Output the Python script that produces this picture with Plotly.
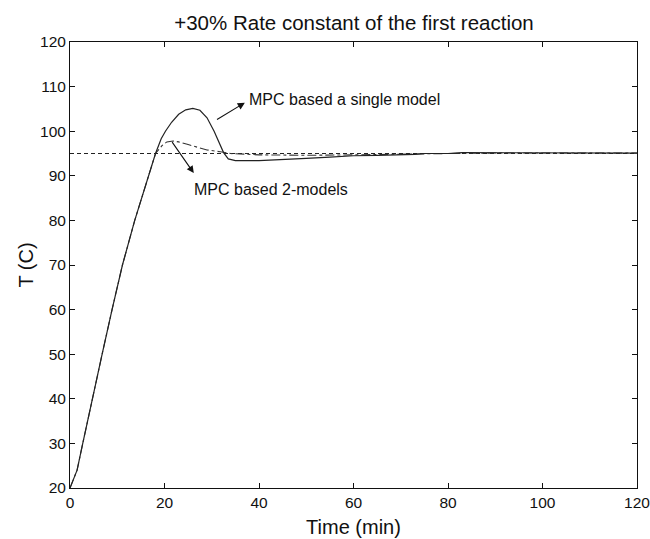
import plotly.graph_objects as go

# Data
t_single = [0, 1.5, 2.7, 4.7, 6.8, 8.9, 11.1, 13.7, 16.6, 18.1, 19.3, 20.2, 21.5, 23, 24.5, 26, 27.5, 29, 30.5, 31.5, 32.5, 33.5, 35, 40, 45, 50, 55, 60, 65, 70, 73, 75, 80, 83, 90, 96, 100, 110, 120]
T_single = [20, 24, 30, 40, 50, 60, 70, 80, 90, 95, 98.3, 100, 102, 103.8, 104.8, 105.1, 104.7, 103, 100, 97.5, 95.2, 93.8, 93.4, 93.4, 93.6, 93.9, 94.2, 94.5, 94.6, 94.7, 94.8, 95.0, 95.0, 95.2, 95.2, 95.1, 95.1, 95.1, 95.1]

t_two = [0, 1.5, 2.7, 4.7, 6.8, 8.9, 11.1, 13.7, 16.6, 18.1, 19.5, 20.5, 21.8, 23, 25, 27.5, 29, 31.8, 34, 40, 50, 60, 70, 80, 90, 100, 120]
T_two = [20, 24, 30, 40, 50, 60, 70, 80, 90, 95, 96.8, 97.6, 97.8, 97.6, 97, 96.2, 95.8, 95.4, 95.0, 94.7, 94.6, 94.7, 94.9, 95.0, 95.1, 95.1, 95.1]

t_set = [0, 120]
T_set = [95, 95]

title_text = "+30% Rate constant of the first reaction"
x_label = "Time (min)"
y_label = "T (C)"
x_ticks = [0, 20, 40, 60, 80, 100, 120]
y_ticks = [20, 30, 40, 50, 60, 70, 80, 90, 100, 110, 120]

fig = go.Figure()
fig.add_trace(go.Scatter(x=t_set, y=T_set, mode="lines",
                         line=dict(color="#222", width=1, dash="4px,3px"),
                         showlegend=False))
fig.add_trace(go.Scatter(x=t_two, y=T_two, mode="lines",
                         line=dict(color="#333", width=1.1, dash="dashdot"),
                         showlegend=False))
fig.add_trace(go.Scatter(x=t_single, y=T_single, mode="lines",
                         line=dict(color="#222", width=1.2),
                         showlegend=False))

font_family = "Liberation Sans, Arial, sans-serif"

# Annotation texts
fig.add_annotation(x=37.4, y=107.2, text="MPC based a single model", showarrow=False,
                   xanchor="left", yanchor="middle", font=dict(size=16, color="#111", family=font_family))
fig.add_annotation(x=37.0, y=106.4, ax=30.8, ay=102.4, axref="x", ayref="y", xref="x", yref="y",
                   text="", showarrow=True, arrowhead=2, arrowsize=1.3, arrowwidth=1.1, arrowcolor="#111")
fig.add_annotation(x=25.8, y=87.0, text="MPC based 2-models", showarrow=False,
                   xanchor="left", yanchor="middle", font=dict(size=16, color="#111", family=font_family))
fig.add_annotation(x=26.2, y=90.6, ax=21.4, ay=97.9, axref="x", ayref="y", xref="x", yref="y",
                   text="", showarrow=True, arrowhead=2, arrowsize=1.3, arrowwidth=1.1, arrowcolor="#111")

axis_common = dict(showline=True, linecolor="#111", linewidth=1, mirror="ticks",
                   ticks="inside", ticklen=5, tickcolor="#111", showgrid=False, zeroline=False,
                   automargin=False, ticklabeloverflow="allow",
                   tickfont=dict(size=15.5, color="#111", family=font_family))

fig.update_layout(
    width=650, height=539,
    margin=dict(l=70, r=13, t=42, b=51),
    paper_bgcolor="white", plot_bgcolor="white",
    title=dict(text=title_text, x=354 / 650, xanchor="center", y=1 - 23 / 539, yanchor="middle",
               font=dict(size=20.5, color="#111", family=font_family)),
    xaxis=dict(range=[0, 120], tickvals=x_ticks, title=dict(text=x_label, standoff=10,
               font=dict(size=20, color="#111", family=font_family)), **axis_common),
    yaxis=dict(range=[20, 120], tickvals=y_ticks, title=dict(text=y_label, standoff=1,
               font=dict(size=20, color="#111", family=font_family)), **axis_common),
)

fig.write_html("out.html")
